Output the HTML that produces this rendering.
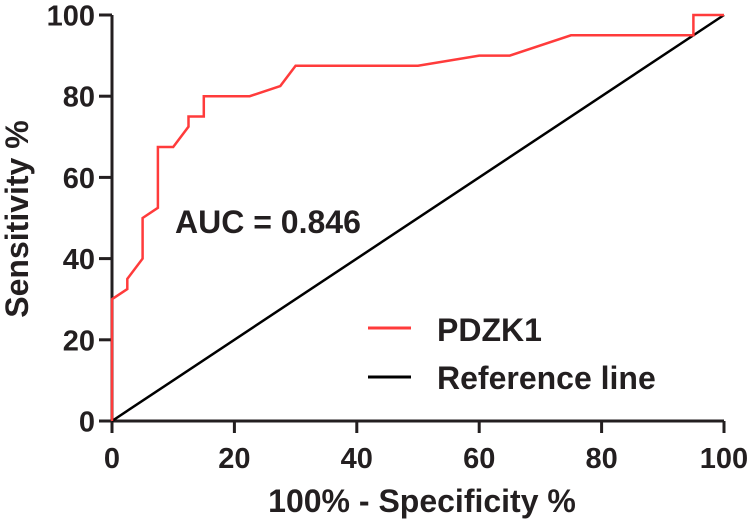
<!DOCTYPE html>
<html><head><meta charset="utf-8"><style>
body{margin:0;background:#fff;}
svg text{font-family:"Liberation Sans",Arial,sans-serif;font-weight:bold;fill:#231f20;}
</style></head><body>
<svg id="chart" width="750" height="522" viewBox="0 0 750 522" xmlns="http://www.w3.org/2000/svg">
<g id="plot"></g>
<text x="175" y="233" font-size="32">AUC = 0.846</text>
<g>
  <line x1="368" y1="328" x2="411" y2="328" stroke="#ff3b3b" stroke-width="3"/>
  <text x="437" y="341" font-size="32">PDZK1</text>
  <line x1="368" y1="377" x2="411" y2="377" stroke="#000" stroke-width="3"/>
  <text x="437" y="389" font-size="32">Reference line</text>
</g>
<text x="422" y="512" font-size="32" text-anchor="middle">100% - Specificity %</text>
<text transform="translate(28,219) rotate(-90)" font-size="32" text-anchor="middle">Sensitivity %</text>
</svg>
<script>
const rocX = [0,0,2.5,2.5,5,5,7.5,7.5,10,12.5,12.5,15,15,22.5,27.5,30,50,60,65,75,95,95,100];
const rocY = [0,30,32.5,35,40,50,52.5,67.5,67.5,72.5,75,75,80,80,82.5,87.5,87.5,90,90,95,95,100,100];
const refX = [0,100];
const refY = [0,100];
const xTicks = [0,20,40,60,80,100];
const yTicks = [0,20,40,60,80,100];
const X0=112,X1=724,Y0=421,Y1=15;
const sx=v=>X0+(X1-X0)*v/100;
const sy=v=>Y0-(Y0-Y1)*v/100;
const NS="http://www.w3.org/2000/svg";
const g=document.getElementById('plot');
function mk(t,a){const e=document.createElementNS(NS,t);for(const k in a)e.setAttribute(k,a[k]);g.appendChild(e);return e;}
const pts=(xs,ys)=>xs.map((x,i)=>sx(x)+','+sy(ys[i])).join(' ');
let xa=mk('line',{x1:X0-1.5,y1:Y0,x2:X1,y2:Y0,stroke:'#231f20','stroke-width':3});


let ya=mk('line',{x1:X0,y1:Y0+1.5,x2:X0,y2:Y1,stroke:'#231f20','stroke-width':3});


xTicks.forEach(v=>{
  let t=mk('line',{x1:sx(v),y1:Y0,x2:sx(v),y2:Y0+12,stroke:'#231f20','stroke-width':3});
  
  
  let l=mk('text',{x:sx(v),y:468,'font-size':29,'text-anchor':'middle'});l.textContent=v;
  
  
});
yTicks.forEach(v=>{
  let t=mk('line',{x1:X0-13,y1:sy(v),x2:X0,y2:sy(v),stroke:'#231f20','stroke-width':3});
  
  
  let l=mk('text',{x:95,y:sy(v)+10.5,'font-size':29,'text-anchor':'end'});l.textContent=v;
  
  
});
let r=mk('polyline',{points:pts(refX,refY),fill:'none',stroke:'#000','stroke-width':2.5});


let c=mk('polyline',{points:pts(rocX,rocY),fill:'none',stroke:'#ff3b3b','stroke-width':2.5,'stroke-linejoin':'miter'});


</script>
</body></html>
